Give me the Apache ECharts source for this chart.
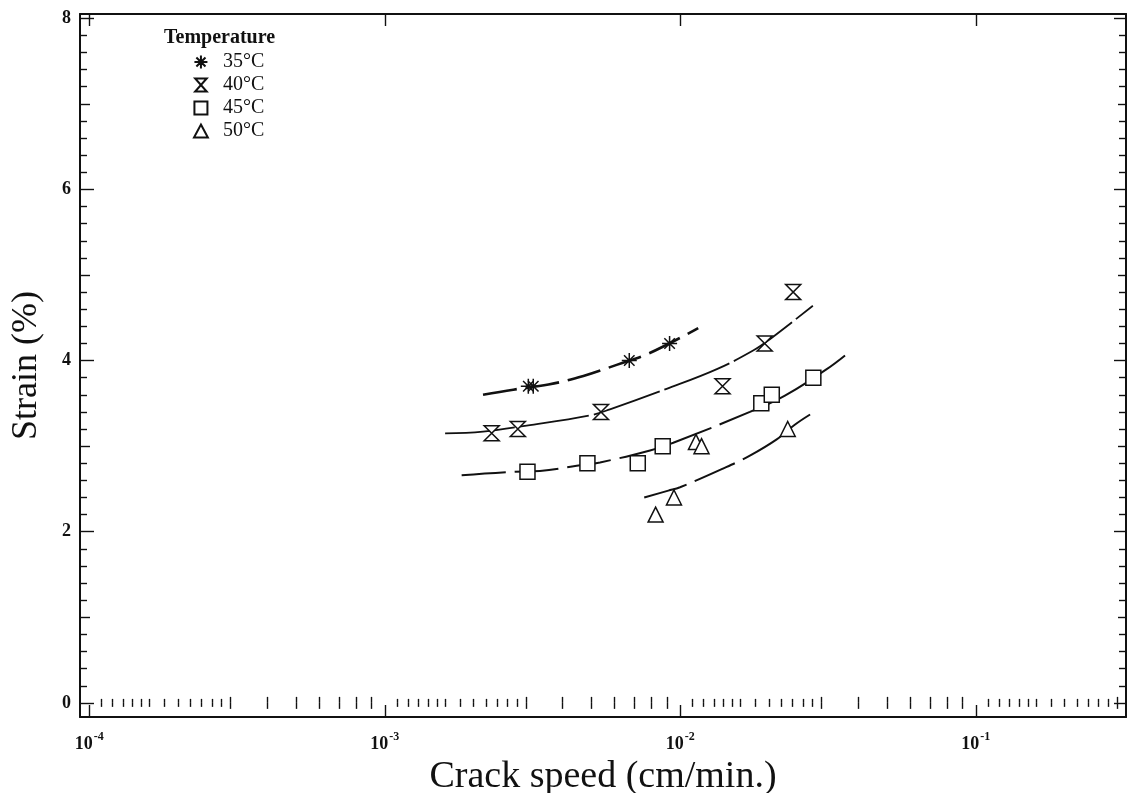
<!DOCTYPE html>
<html>
<head>
<meta charset="utf-8">
<script src="https://cdn.jsdelivr.net/npm/echarts@6/dist/echarts.min.js"></script>
<style>
  html, body { margin: 0; padding: 0; background: #fff; }
  #chart { width: 1131px; height: 793px; }
</style>
</head>
<body>
<div id="chart"></div>
<script>
// Measured crack speed (cm/min.) and strain (%) at each temperature
const speed35 = [0.00306, 0.00318, 0.00672, 0.00920];
const strain35 = [3.7, 3.7, 4.0, 4.2];

const speed40 = [0.00230, 0.00282, 0.00539, 0.0139, 0.0193, 0.0241];
const strain40 = [3.15, 3.2, 3.4, 3.7, 4.2, 4.8];

const speed45 = [0.00304, 0.00485, 0.00718, 0.00872, 0.0188, 0.0204, 0.0282];
const strain45 = [2.7, 2.8, 2.8, 3.0, 3.5, 3.6, 3.8];

const speed50 = [0.00825, 0.00952, 0.0113, 0.0118, 0.0231];
const strain50 = [2.2, 2.4, 3.05, 3.0, 3.2];

// Fitted trend curves (sampled along each curve)
const fit35Speed = [0.00215, 0.00272, 0.00358, 0.0047, 0.00609, 0.00779, 0.0115];
const fit35Strain = [3.60, 3.66, 3.72, 3.82, 3.95, 4.08, 4.38];

const fit40Speed = [0.0016, 0.00215, 0.00302, 0.00495, 0.00578, 0.00899, 0.0133, 0.0177, 0.0201, 0.0281];
const fit40Strain = [3.15, 3.17, 3.24, 3.36, 3.43, 3.67, 3.90, 4.12, 4.25, 4.64];

const fit45Speed = [0.00182, 0.00272, 0.00335, 0.00446, 0.00535, 0.0079, 0.00947, 0.0172, 0.0226, 0.0313, 0.0361];
const fit45Strain = [2.66, 2.70, 2.71, 2.77, 2.81, 2.95, 3.04, 3.40, 3.59, 3.90, 4.06];

const fit50Speed = [0.00755, 0.00911, 0.00998, 0.0140, 0.0172, 0.0212, 0.0244, 0.0275];
const fit50Strain = [2.40, 2.48, 2.52, 2.74, 2.89, 3.08, 3.25, 3.37];

// Tick labels
const xDecadeExponents = [-4, -3, -2, -1];
const yTickLabels = [0, 2, 4, 6, 8];
const temperatureNames = ['35°C', '40°C', '45°C', '50°C'];

// Axis extents (x in decades)
const LOG_X_MIN = -4.0315, LOG_X_MAX = -0.4916;
const Y_MIN = -0.165, Y_MAX = 8.05;

const pairs = (xs, ys) => xs.map((x, i) => [x, ys[i]]);

// Tick positions in decade space
const denseMult = [1.1, 1.2, 1.3, 1.4, 1.5, 1.6, 1.8, 2, 2.2, 2.4, 2.6, 2.8];
const sparseMult = [3, 4, 5, 6, 7, 8, 9];
const inRange = v => v >= LOG_X_MIN && v <= LOG_X_MAX;
const xDense = [], xSparse = [];
for (let d = -5; d <= 0; d++) {
  denseMult.forEach(m => { const v = Math.log10(m) + d; if (inRange(v)) xDense.push(v); });
  sparseMult.forEach(m => { const v = Math.log10(m) + d; if (inRange(v)) xSparse.push(v); });
}
const yOdd = [1, 3, 5, 7];
const yMinor = [];
for (let i = 0; i <= 40; i++) { if (i % 5 !== 0) yMinor.push(+(i * 0.2).toFixed(1)); }

const serif = 'Liberation Serif';
const ink = '#111';

// Marker shapes
const asteriskPath = 'path://M0,-10L0,10M-10,0L10,0M-7,-7L7,7M-7,7L7,-7M-1.6,-1.6L1.6,-1.6L1.6,1.6L-1.6,1.6Z';
const hourglassPath = 'path://M-8,-9L8,-9L-8,9L8,9Z';
const squarePath = 'path://M-8,-8L8,-8L8,8L-8,8Z';
const trianglePath = 'path://M0,-8L8,7L-8,7Z';

function tickAxis(kind, position, values, length, extra) {
  const base = {
    type: 'value',
    position: position,
    min: kind === 'x' ? LOG_X_MIN : Y_MIN,
    max: kind === 'x' ? LOG_X_MAX : Y_MAX,
    axisLine: { show: false },
    axisTick: { show: true, inside: true, length: length, customValues: values,
                lineStyle: { color: ink, width: 1.4 } },
    axisLabel: { show: false },
    splitLine: { show: false }
  };
  return Object.assign(base, extra || {});
}

const frameLine = { show: true, onZero: false, lineStyle: { color: ink, width: 2 } };

const xAxes = [
  // data axis (logarithmic), hidden; ticks are drawn by the axes below
  { type: 'log', logBase: 10, min: Math.pow(10, LOG_X_MIN), max: Math.pow(10, LOG_X_MAX), show: false },
  tickAxis('x', 'bottom', xDecadeExponents, 12, {
    axisLine: frameLine,
    axisLabel: {
      show: true, customValues: xDecadeExponents, margin: 14,
      formatter: v => '{b|10}{s|' + v + '}',
      rich: {
        b: { fontFamily: serif, fontWeight: 'bold', fontSize: 18, color: ink, lineHeight: 22, verticalAlign: 'bottom' },
        s: { fontFamily: serif, fontWeight: 'bold', fontSize: 12, color: ink, lineHeight: 22, verticalAlign: 'top', padding: [0, 0, 0, 1] }
      }
    },
    name: 'Crack speed (cm/min.)', nameLocation: 'middle', nameGap: 30,
    nameTextStyle: { fontFamily: serif, fontSize: 38, color: ink }
  }),
  tickAxis('x', 'bottom', xSparse, 6),
  tickAxis('x', 'bottom', xDense, 4),
  tickAxis('x', 'top', xDecadeExponents, 12, { axisLine: frameLine }),
  tickAxis('x', 'top', xSparse, 6),
  tickAxis('x', 'top', xDense, 4)
];

const yAxes = [
  tickAxis('y', 'left', yTickLabels, 14, {
    axisLine: frameLine,
    axisLabel: { show: true, customValues: yTickLabels, margin: 9,
                 fontFamily: serif, fontWeight: 'bold', fontSize: 18, color: ink },
    name: 'Strain (%)', nameLocation: 'middle', nameGap: 35,
    nameTextStyle: { fontFamily: serif, fontSize: 36, color: ink }
  }),
  tickAxis('y', 'left', yOdd, 10),
  tickAxis('y', 'left', yMinor, 7),
  tickAxis('y', 'right', yTickLabels, 12, { axisLine: frameLine }),
  tickAxis('y', 'right', yOdd, 8),
  tickAxis('y', 'right', yMinor, 7)
];

function pointSeries(name, xs, ys, symbol, size, fill) {
  return {
    type: 'scatter', name: name, xAxisIndex: 0, yAxisIndex: 0, z: 5,
    symbol: symbol, symbolSize: size,
    itemStyle: { color: fill, borderColor: ink, borderWidth: 1.5, opacity: 1 },
    data: pairs(xs, ys)
  };
}

function curveSeries(xs, ys, width, dash) {
  return {
    type: 'line', xAxisIndex: 0, yAxisIndex: 0, z: 3,
    smooth: 0.4, showSymbol: false, silent: true,
    lineStyle: { color: ink, width: width, type: dash },
    data: pairs(xs, ys)
  };
}

const option = {
  backgroundColor: '#fff',
  animation: false,
  grid: { left: 80, right: 5, top: 14, bottom: 76, containLabel: false, outerBoundsMode: 'none' },
  title: {
    text: 'Temperature', left: 159, top: 23,
    textStyle: { fontFamily: serif, fontWeight: 'bold', fontSize: 20, color: ink }
  },
  legend: {
    orient: 'vertical', left: 188, top: 47,
    itemWidth: 34, itemHeight: 13, itemGap: 3,
    symbolKeepAspect: true,
    textStyle: { fontFamily: serif, fontSize: 20, color: ink, lineHeight: 20 },
    data: [
      { name: temperatureNames[0], icon: asteriskPath },
      { name: temperatureNames[1], icon: hourglassPath },
      { name: temperatureNames[2], icon: squarePath },
      { name: temperatureNames[3], icon: trianglePath }
    ]
  },
  xAxis: xAxes,
  yAxis: yAxes,
  series: [
    curveSeries(fit35Speed, fit35Strain, 2.6, [34, 9]),
    curveSeries(fit40Speed, fit40Strain, 1.8, [70, 5]),
    curveSeries(fit45Speed, fit45Strain, 2, [44, 9]),
    curveSeries(fit50Speed, fit50Strain, 2, [44, 9]),
    pointSeries(temperatureNames[0], speed35, strain35, asteriskPath, 15, ink),
    pointSeries(temperatureNames[1], speed40, strain40, hourglassPath, [15, 15], '#fff'),
    pointSeries(temperatureNames[2], speed45, strain45, squarePath, 15, '#fff'),
    pointSeries(temperatureNames[3], speed50, strain50, trianglePath, 15, '#fff')
  ]
};

const chart = echarts.init(document.getElementById('chart'), null, { renderer: 'canvas' });
chart.setOption(option);
</script>
</body>
</html>
